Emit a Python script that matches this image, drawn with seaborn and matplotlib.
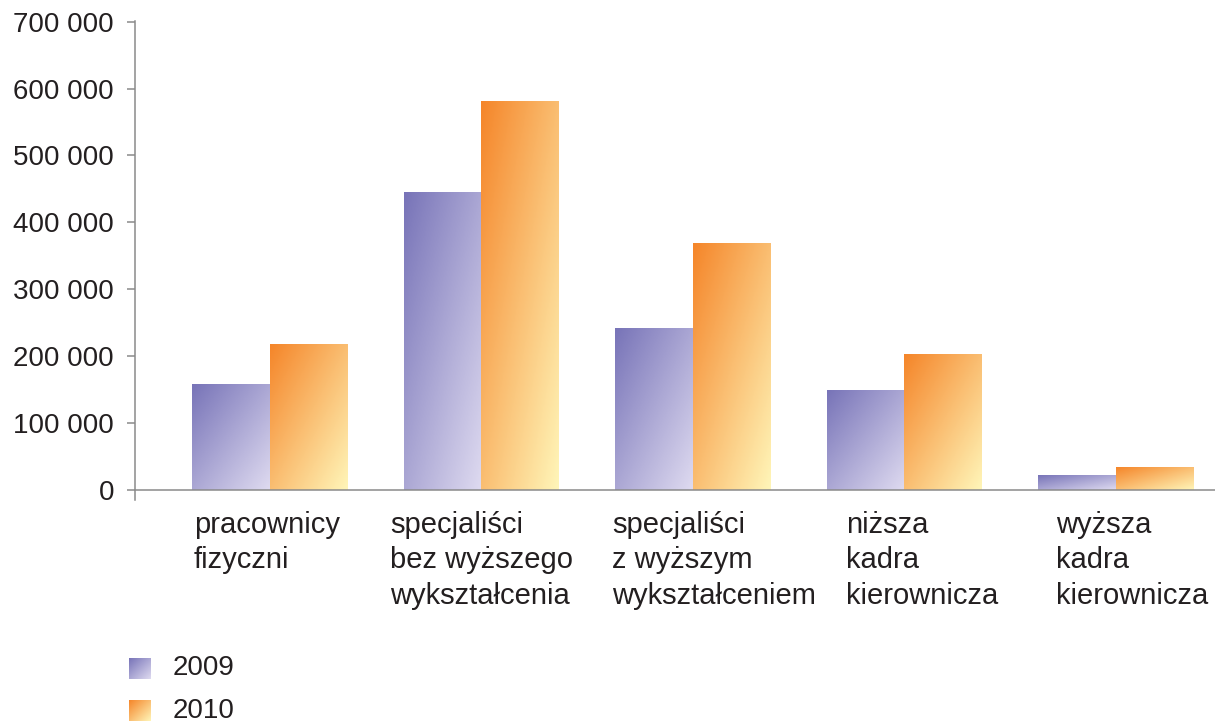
import numpy as np
import pandas as pd
import seaborn as sns
import matplotlib.pyplot as plt
from matplotlib.colors import LinearSegmentedColormap
from matplotlib.transforms import blended_transform_factory

# data
categories = ['pracownicy\nfizyczni',
              'specjaliści\nbez wyższego\nwykształcenia',
              'specjaliści\nz wyższym\nwykształceniem',
              'niższa\nkadra\nkierownicza',
              'wyższa\nkadra\nkierownicza']
values_2009 = [158000, 444000, 241000, 148000, 21000]
values_2010 = [217000, 581000, 368000, 203000, 34000]
years = ['2009', '2010']

# left edge of each category label relative to the category centre
label_shift = [-0.36, -0.43, -0.38, -0.275, -0.28]

df = pd.DataFrame({
    'cat': categories * 2,
    'year': [years[0]] * 5 + [years[1]] * 5,
    'value': values_2009 + values_2010,
})

sns.set_style('white')
plt.rcParams['font.family'] = ['Liberation Sans', 'DejaVu Sans']
text_col = '#231f20'
grey = '#8a8a8a'

cmaps = {
    '2009': LinearSegmentedColormap.from_list('p', ['#7874b8', '#dedaf0']),
    '2010': LinearSegmentedColormap.from_list('o', ['#f5862a', '#fff5b8']),
}

fig = plt.figure(figsize=(12.15, 7.22), dpi=100)
ax = fig.add_axes([0.111, 0.3075, 0.889, 0.6635])

sns.barplot(data=df, x='cat', y='value', hue='year', order=categories,
            hue_order=years, width=0.733, gap=0, ax=ax, legend=False,
            palette=['#9b97cc', '#f9b060'], errorbar=None)

# diagonal gradient (dark top-left -> light bottom-right) for every bar
uu, vv = np.meshgrid(np.linspace(0, 1, 60), np.linspace(0, 1, 60))
grad = (uu + vv) / 2
for i, p in enumerate(ax.patches[:10]):
    yr = years[i // 5]
    x0, y0 = p.get_x(), p.get_y()
    w, h = p.get_width(), p.get_height()
    ax.imshow(grad, cmap=cmaps[yr], extent=(x0, x0 + w, y0, y0 + h),
              origin='upper', aspect='auto', zorder=2)
    p.set_visible(False)

ax.set_xlim(-0.638, 4.47)
ax.set_ylim(-15000, 701000)
ax.axhline(0, color=grey, lw=1.1, zorder=3, clip_on=False)

yt = np.arange(0, 700001, 100000)
ax.set_yticks(yt)
ax.set_yticklabels([f'{int(v):,}'.replace(',', ' ') for v in yt],
                   fontsize=20, color=text_col)
ax.tick_params(axis='y', length=6, width=1.1, color=grey, pad=9, left=True)
ax.set_xticks([])
ax.set_xlabel('')
ax.set_ylabel('')

for s in ['top', 'right', 'bottom']:
    ax.spines[s].set_visible(False)
ax.spines['left'].set_color(grey)
ax.spines['left'].set_linewidth(1.1)

trans = blended_transform_factory(ax.transData, ax.transAxes)
for i, lab in enumerate(categories):
    ax.text(i + label_shift[i], -0.022, lab, transform=trans, ha='left',
            va='top', fontsize=21, color=text_col, linespacing=1.36)

# legend with gradient squares
legend_pos = [(0.106, 0.0596), (0.106, 0.0014)]
for yr, (lx, ly) in zip(years, legend_pos):
    lax = fig.add_axes([lx, ly, 0.0181, 0.029])
    lax.imshow(grad, cmap=cmaps[yr], aspect='auto')
    lax.axis('off')
    fig.text(0.142, ly + 0.0145, yr, ha='left', va='center',
             fontsize=20, color=text_col)

fig.savefig('out.png', dpi=100)
